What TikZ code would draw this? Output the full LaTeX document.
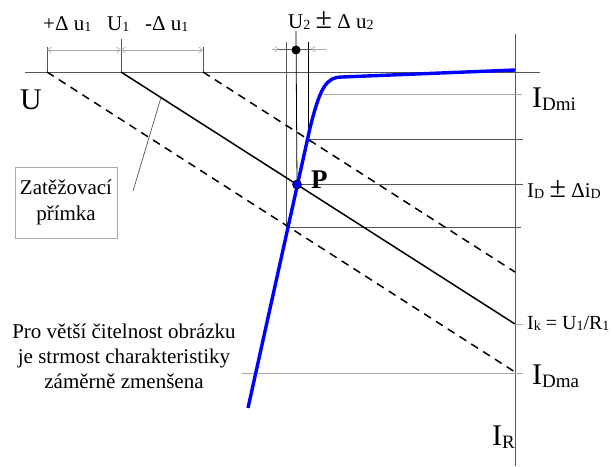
\documentclass[tikz,border=0pt]{standalone}
\usepackage{fontspec}
\setmainfont{Liberation Serif}
\usepackage{tikz}
\usetikzlibrary{positioning, arrows.meta}
\definecolor{axisgray}{HTML}{555555}
\definecolor{softgray}{HTML}{A8A8A8}
\definecolor{curveblue}{HTML}{0000FF}
\newcommand{\lsub}[1]{\raisebox{-1.5pt}{\fontsize{14}{14}\selectfont #1}}
\newcommand{\bsub}[1]{\raisebox{-3pt}{\fontsize{19}{19}\selectfont #1}}
\newcommand{\bigpm}{{\fontsize{30}{30}\selectfont ±}}
\tikzset{
  axisline/.style={draw=axisgray, line width=0.9pt},
  levelline/.style={draw=axisgray, line width=0.9pt},
  softline/.style={draw=softgray, line width=1pt},
  thinline/.style={draw=black, line width=0.8pt},
  dimarrow/.style={draw=softgray, line width=0.6pt, {Straight Barb[length=4pt,width=6pt]}-{Straight Barb[length=4pt,width=6pt]}},
  halfarrow/.style={draw=softgray, line width=0.6pt, -{Straight Barb[length=4pt,width=6pt]}},
  loadline/.style={draw=black, line width=1.5pt},
  loaddash/.style={draw=black, line width=1.5pt, dash pattern=on 8pt off 6pt},
  diodecurve/.style={draw=curveblue, line width=3.4pt},
  biglabel/.style={anchor=base west, inner sep=0pt, font=\fontsize{30}{30}\selectfont},
  smalllabel/.style={anchor=base west, inner sep=0pt, font=\fontsize{21}{21}\selectfont},
  notetext/.style={inner sep=0pt, align=center, font=\fontsize{21}{25}\selectfont},
  namebox/.style={draw=softgray, line width=0.8pt, inner sep=0pt, align=center,
    minimum width=102pt, minimum height=71pt, font=\fontsize{21}{26}\selectfont}
}
\begin{document}
\begin{tikzpicture}[x=1pt, y=-1pt]
\useasboundingbox (0,0) rectangle (613,466);

\coordinate (axL) at (25,72);
\coordinate (axR) at (540,72);
\coordinate (irTop) at (515,34);
\coordinate (irBot) at (515,466);

\coordinate (uPlus) at (47,72);
\coordinate (uPlusTop) at (47,47);
\coordinate (uOne) at (121,72);
\coordinate (uOneTop) at (121,39);
\coordinate (uMinus) at (203,72);
\coordinate (uMinusTop) at (203,47);
\coordinate (dimA) at (47,50);
\coordinate (dimB) at (121,50);
\coordinate (dimC) at (203,50);

\coordinate (ikEnd) at (515,324);
\coordinate (ikTick) at (523,324);
\coordinate (maxEnd) at (515,372);
\coordinate (minEnd) at (515,272);

\coordinate (P) at (297,184.5);
\coordinate (curveLow) at (248,408);
\coordinate (curveKnee) at (310,128);
\coordinate (curveTop) at (342,77);
\coordinate (curveEnd) at (515,70);

\coordinate (vLeftTop) at (286,42);
\coordinate (vLeftBot) at (286,227);
\coordinate (vMidTop) at (296,31);
\coordinate (vRightTop) at (308,42);
\coordinate (vRightBot) at (308,139);
\coordinate (uTwoL) at (272,49);
\coordinate (uTwoR) at (326,49);
\coordinate (uTwoDot) at (296,50);
\coordinate (uTwoA) at (279,49);
\coordinate (uTwoB) at (311,49);

\coordinate (hiL) at (308,139);
\coordinate (hiR) at (523,139);
\coordinate (idR) at (523,184.5);
\coordinate (loR) at (521,227);
\coordinate (dmiL) at (323,94);
\coordinate (dmiR) at (522,94);
\coordinate (dmaL) at (242,373);
\coordinate (dmaR) at (523,373);

\coordinate (leadFoot) at (133,191);
\coordinate (leadHead) at (161,97.5);

\draw[axisline] (axL) -- (axR);
\draw[axisline] (irTop) -- (irBot);
\draw[axisline] (uPlusTop) -- (uPlus);
\draw[axisline] (uOneTop) -- (uOne);
\draw[axisline] (uMinusTop) -- (uMinus);
\draw[dimarrow] (dimA) -- (dimB);
\draw[dimarrow] (dimB) -- (dimC);

\draw[softline] (dmiL) -- (dmiR);
\draw[softline] (dmaL) -- (dmaR);
\draw[softline] (ikEnd) -- (ikTick);
\draw[levelline] (hiL) -- (hiR);
\draw[levelline] (P) -- (idR);
\draw[levelline] (vLeftBot) -- (loR);
\draw[levelline] (vLeftTop) -- (vLeftBot);
\draw[thinline] (vMidTop) -- (P);
\draw[thinline] (vRightTop) -- (vRightBot);
\draw[levelline, line width=0.7pt] (uTwoL) -- (uTwoR);
\draw[halfarrow] (uTwoL) -- (uTwoA);
\draw[halfarrow] (uTwoR) -- (uTwoB);
\fill (uTwoDot) circle (4.5pt);

\draw[loaddash] (uPlus) -- (maxEnd);
\draw[loaddash] (uMinus) -- (minEnd);
\draw[loadline] (uOne) -- (ikEnd);
\draw[draw=axisgray, line width=0.7pt] (leadFoot) -- (leadHead);

\draw[diodecurve] (curveLow) -- (curveKnee) .. controls (320,88) and (326,77) .. (curveTop) -- (curveEnd);
\filldraw[fill=curveblue, draw=black, line width=0.6pt] (P) circle (4.5pt);

\node[smalllabel] (lblPlus) at (43,30) {+Δ u\lsub{1}};
\node[smalllabel] (lblUone) at (107,30) {U\lsub{1}};
\node[smalllabel] (lblMinus) at (145,30) {-Δ u\lsub{1}};
\node[smalllabel] (lblUtwo) at (288,28) {U\lsub{2} \bigpm{} Δ u\lsub{2}};
\node[biglabel] (lblU) at (20,109) {U};
\node[biglabel] (lblDmi) at (532,107) {I\bsub{Dmi}};
\node[biglabel] (lblDma) at (532,384) {I\bsub{Dma}};
\node[biglabel] (lblIR) at (492,445) {I\bsub{R}};
\node[smalllabel] (lblID) at (527,197) {I\lsub{D} \bigpm{} Δi\lsub{D}};
\node[smalllabel, font=\fontsize{20}{20}\selectfont] (lblIk) at (527,329) {I\lsub{k} = U\lsub{1}/R\lsub{1}};
\node[anchor=base west, inner sep=0pt, font=\fontsize{27}{27}\selectfont\bfseries] (lblP) at (311,188) {P};

\node[namebox] (zbox) at (66,202.5) {Zatěžovací\\přímka};
\node[notetext] (note) at (124,356) {Pro větší čitelnost obrázku\\je strmost charakteristiky\\záměrně zmenšena};
\end{tikzpicture}
\end{document}
